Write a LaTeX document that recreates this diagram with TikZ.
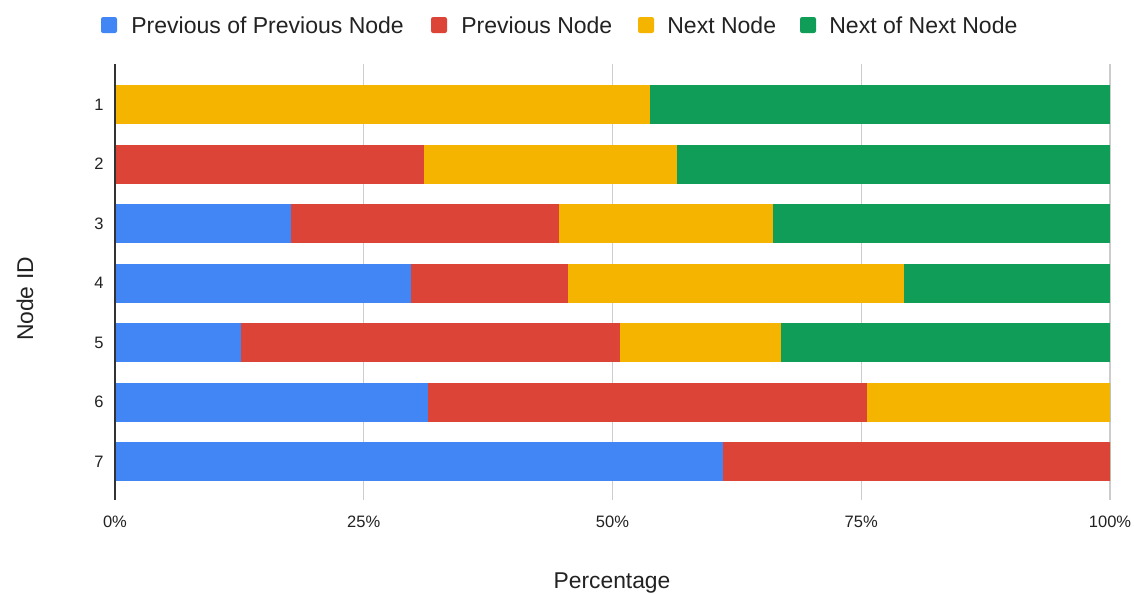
\documentclass[tikz,border=0pt]{standalone}
\usepackage{fontspec}
\setmainfont{Liberation Sans}
\usepackage{xcolor}
\definecolor{PrevPrev}{HTML}{4285F4}
\definecolor{Prev}{HTML}{DB4437}
\definecolor{Next}{HTML}{F4B400}
\definecolor{NextNext}{HTML}{0F9D58}
\definecolor{AxisGray}{HTML}{333333}
\definecolor{GridGray}{HTML}{CCCCCC}
\definecolor{LabelGray}{HTML}{222222}

\begin{document}
\begin{tikzpicture}[
  x=0.02cm, y=-0.02cm,
  legkey/.style={rounded corners=1.2pt},
  legtext/.style={anchor=west, inner sep=0pt, font=\fontsize{13.1}{15}\selectfont, text=LabelGray},
  ticklbl/.style={inner sep=0pt, font=\fontsize{9.4}{11}\selectfont, text=LabelGray},
  axtitle/.style={inner sep=0pt, font=\fontsize{13}{15}\selectfont, text=LabelGray}
]
  \useasboundingbox[fill=white] (0,0) rectangle (1134,593);

  % legend
  \fill[legkey, PrevPrev] (101,17) rectangle (117,33);
  \node[legtext] (lg1) at (131,25) {Previous of Previous Node};
  \fill[legkey, Prev] (431,17) rectangle (447,33);
  \node[legtext] (lg2) at (461,25) {Previous Node};
  \fill[legkey, Next] (638,17) rectangle (654,33);
  \node[legtext] (lg3) at (667,25) {Next Node};
  \fill[legkey, NextNext] (800,17) rectangle (816,33);
  \node[legtext] (lg4) at (829,25) {Next of Next Node};

  % grid and percent ticks
  \foreach \p in {25,50,75,100}
    \draw[GridGray, line width=0.6pt] ({115+9.95*\p},64) -- ({115+9.95*\p},500);
  \foreach \p in {0,25,50,75,100}
    \node[ticklbl] (tk\p) at ({115+9.95*\p},522) {\p\%};

  % stacked bars: row / end of blue / end of red / end of yellow
  \foreach \r/\a/\b/\c in {1/0/0/53.8, 2/0/31.1/56.5, 3/17.7/44.6/66.1,
                           4/29.7/45.5/79.3, 5/12.7/50.8/66.9,
                           6/31.5/75.6/100, 7/61.1/100/100} {
    \pgfmathsetmacro{\yc}{104.5+(\r-1)*59.5}
    \fill[PrevPrev] (115,\yc-19.5) rectangle ({115+9.95*\a},\yc+19.5);
    \fill[Prev]     ({115+9.95*\a},\yc-19.5) rectangle ({115+9.95*\b},\yc+19.5);
    \fill[Next]     ({115+9.95*\b},\yc-19.5) rectangle ({115+9.95*\c},\yc+19.5);
    \fill[NextNext] ({115+9.95*\c},\yc-19.5) rectangle (1110,\yc+19.5);
    \node[ticklbl, anchor=east] (row\r) at (104,\yc) {\r};
  }

  % axis line
  \draw[AxisGray, line width=0.6pt] (115,64) -- (115,500);

  % axis titles
  \node[axtitle, anchor=base] (xtitle) at (612,588) {Percentage};
  \node[axtitle, rotate=90] (ytitle) at (25,299) {Node ID};
\end{tikzpicture}
\end{document}
